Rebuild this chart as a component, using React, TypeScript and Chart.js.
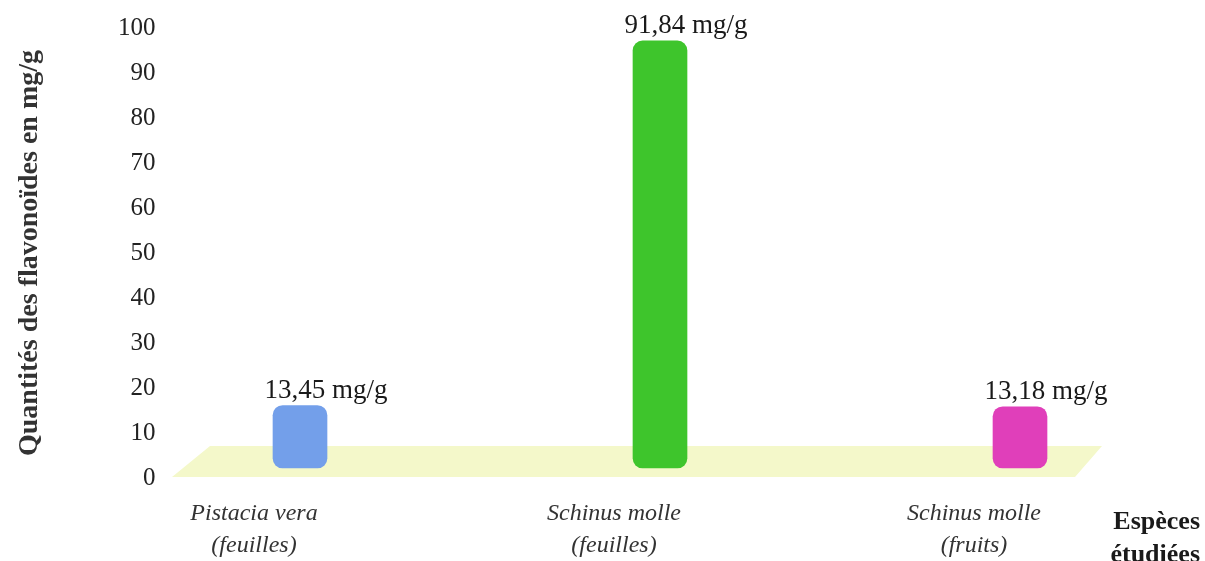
import React, { useEffect, useRef } from "react";
import { Chart, registerables } from "chart.js";

Chart.register(...registerables);

const categories: string[][] = [
  ["Pistacia vera", "(feuilles)"],
  ["Schinus molle", "(feuilles)"],
  ["Schinus molle", "(fruits)"],
];
const flavonoids: number[] = [13.45, 91.84, 13.18];
const barColors: string[] = ["#739fea", "#3ec52c", "#e03fba"];
const yTicks: number[] = [0, 10, 20, 30, 40, 50, 60, 70, 80, 90, 100];
const yTitle = "Quantités des flavonoïdes en mg/g";
const xTitle: string[] = ["Espèces", "étudiées"];
const unit = "mg/g";

const SERIF = "'Liberation Serif', 'Times New Roman', serif";

const floorPlugin = {
  id: "floor",
  beforeDatasetsDraw(chart: any) {
    const { ctx, chartArea, scales } = chart;
    const y0 = scales.y.getPixelForValue(0);
    ctx.save();
    ctx.fillStyle = "#f4f8ca";
    ctx.beginPath();
    ctx.moveTo(chartArea.left + 52, y0 - 1);
    ctx.lineTo(chartArea.left + 90, y0 - 32);
    ctx.lineTo(chartArea.right - 98, y0 - 32);
    ctx.lineTo(chartArea.right - 125, y0 - 1);
    ctx.closePath();
    ctx.fill();
    ctx.restore();
  },
};

const valueLabelPlugin = {
  id: "valueLabels",
  afterDatasetsDraw(chart: any) {
    const { ctx } = chart;
    const meta = chart.getDatasetMeta(0);
    ctx.save();
    ctx.font = `27px ${SERIF}`;
    ctx.fillStyle = "#1a1a1a";
    ctx.textAlign = "center";
    ctx.textBaseline = "middle";
    meta.data.forEach((bar: any, i: number) => {
      const txt = flavonoids[i].toFixed(2).replace(".", ",") + " " + unit;
      ctx.fillText(txt, bar.x + 26, bar.y - 15);
    });
    ctx.restore();
  },
};

export default function App() {
  const ref = useRef<HTMLCanvasElement | null>(null);

  useEffect(() => {
    if (!ref.current) return;
    Chart.defaults.font.family = SERIF;
    const chart = new Chart(ref.current, {
      type: "bar",
      data: {
        labels: categories,
        datasets: [
          {
            data: flavonoids,
            backgroundColor: barColors,
            borderWidth: 0,
            borderRadius: 10,
            borderSkipped: false,
            barThickness: 54,
            yAxisID: "yb",
          },
        ],
      },
      options: {
        animation: false,
        responsive: true,
        maintainAspectRatio: false,
        layout: { padding: { top: 28, right: 5, left: 0, bottom: 0 } },
        plugins: {
          legend: { display: false },
          tooltip: { enabled: false },
        },
        scales: {
          x: {
            type: "category",
            offset: true,
            grid: { display: false, drawTicks: false },
            border: { display: false },
            ticks: {
              font: { family: SERIF, size: 24, style: "italic", lineHeight: 1.35 },
              color: "#333333",
              padding: 19,
              labelOffset: -46,
              maxRotation: 0,
              autoSkip: false,
            },
            title: {
              display: true,
              text: xTitle,
              align: "end",
              color: "#1a1a1a",
              font: { family: SERIF, size: 26, weight: "bold", lineHeight: 1.27 },
              padding: { top: 0, bottom: -11 },
            },
            afterFit: (scale: any) => {
              scale.height = 83;
            },
          },
          y: {
            position: "left",
            min: 0,
            max: 100,
            grid: { display: false, drawTicks: false },
            border: { display: false },
            afterBuildTicks: (scale: any) => {
              scale.ticks = yTicks.map((v) => ({ value: v }));
            },
            ticks: {
              font: { family: SERIF, size: 25 },
              color: "#222222",
              mirror: true,
              crossAlign: "far",
              padding: -2,
            },
            title: {
              display: true,
              text: yTitle,
              color: "#333333",
              font: { family: SERIF, size: 28, weight: "bold", lineHeight: 1.2 },
              padding: { top: 13, bottom: 0 },
            },
            afterFit: (scale: any) => {
              scale.width = 120;
            },
          },
          yb: {
            display: false,
            min: -2.15,
            max: 94.62,
          },
        },
      },
      plugins: [floorPlugin, valueLabelPlugin],
    } as any);
    return () => chart.destroy();
  }, []);

  return (
    <div style={{ position: "absolute", left: 0, top: 0, width: 1205, height: 561, background: "#ffffff" }}>
      <canvas ref={ref} />
    </div>
  );
}
